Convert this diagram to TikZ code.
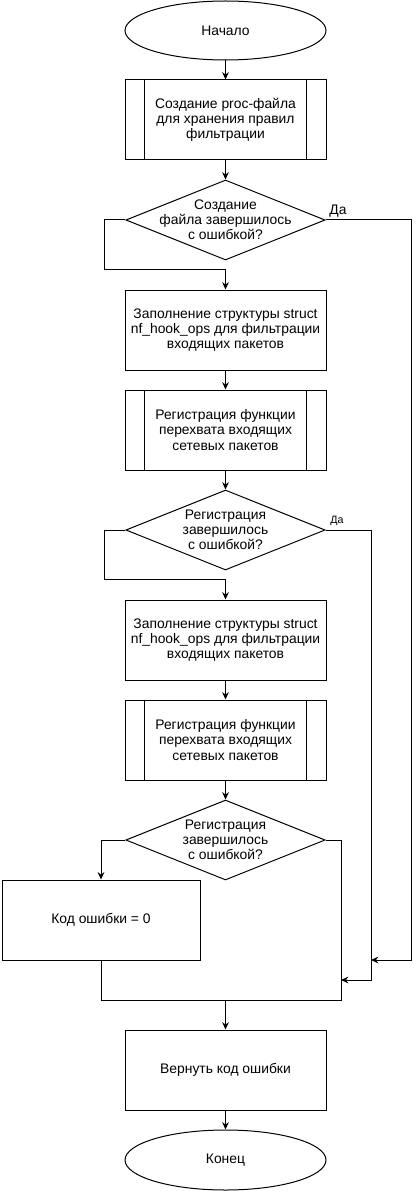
\documentclass[tikz,border=0pt]{standalone}
\usepackage{fontspec}
\setmainfont{Liberation Sans}
\usetikzlibrary{shapes.geometric,arrows.meta,calc}
\begin{document}
\begin{tikzpicture}[x=0.75pt,y=-0.75pt, line width=0.75pt,
  every node/.style={font=\fontsize{10.4}{11.3}\selectfont, align=center},
  term/.style={draw, ellipse, minimum width=150.75pt, minimum height=44.25pt, inner sep=0pt},
  proc/.style={draw, rectangle, minimum width=150.75pt, minimum height=60pt, inner sep=0pt},
  dec/.style={draw, diamond, minimum width=149.5pt, minimum height=60pt, inner sep=0pt},
  arr/.style={-{Stealth[length=5.5pt,width=5pt]}},
  yes/.style={inner sep=0pt, anchor=south}]
\useasboundingbox (0,0) rectangle (420,1191);

\node[term] (start) at (225.5,30.5) {Начало};
\node[proc] (s1) at (225.5,120) {Создание proc-файла\\для хранения правил\\фильтрации};
\draw ([xshift=15pt]s1.north west) -- ([xshift=15pt]s1.south west);
\draw ([xshift=-15pt]s1.north east) -- ([xshift=-15pt]s1.south east);
\node[dec] (d1) at (225.5,220) {};
\node (d1t) at (d1.center) {Создание\\файла завершилось\\с ошибкой?};
\node[proc] (b1) at (225.5,330) {Заполнение структуры struct\\nf\_hook\_ops для фильтрации\\входящих пакетов};
\node[proc] (s2) at (225.5,430) {Регистрация функции\\перехвата входящих\\сетевых пакетов};
\draw ([xshift=15pt]s2.north west) -- ([xshift=15pt]s2.south west);
\draw ([xshift=-15pt]s2.north east) -- ([xshift=-15pt]s2.south east);
\node[dec] (d2) at (225.5,530) {};
\node (d2t) at (d2.center) {Регистрация\\завершилось\\с ошибкой?};
\node[proc] (b3) at (225.5,640) {Заполнение структуры struct\\nf\_hook\_ops для фильтрации\\входящих пакетов};
\node[proc] (s4) at (225.5,740) {Регистрация функции\\перехвата входящих\\сетевых пакетов};
\draw ([xshift=15pt]s4.north west) -- ([xshift=15pt]s4.south west);
\draw ([xshift=-15pt]s4.north east) -- ([xshift=-15pt]s4.south east);
\node[dec] (d3) at (225.5,840) {};
\node (d3t) at (d3.center) {Регистрация\\завершилось\\с ошибкой?};
\node[proc, minimum width=148.5pt] (k) at (101,920) {Код ошибки = 0};
\node[proc] (r) at (225.5,1070) {Вернуть код ошибки};
\node[term, minimum height=45pt] (end) at (225.5,1160) {Конец};

\coordinate (m1) at (371,960);
\coordinate (m2) at (341,980);
\coordinate (j) at (225.5,1000);

\draw[arr] (start) -- (s1);
\draw[arr] (s1) -- (d1);
\draw[arr] (d1.west) -- ++(-21,0) |- ([yshift=15pt]b1.north) -- (b1.north);
\draw[arr] (d1.east) -| (411,960) -- (m1);
\node[yes] (y1) at (338,218) {Да};
\draw[arr] (b1) -- (s2);
\draw[arr] (s2) -- (d2);
\draw[arr] (d2.west) -- ++(-21,0) |- ([yshift=15pt]b3.north) -- (b3.north);
\draw[arr] (d2.east) -| (371,980) -- (m2);
\node[yes, font=\fontsize{8}{9}\selectfont] (y2) at (337,526) {Да};
\draw[arr] (b3) -- (s4);
\draw[arr] (s4) -- (d3);
\draw[arr] (d3.west) -| (k.north);
\draw (d3.east) -| (341,1000) -| (k.south);
\draw[arr] (j) -- (r.north);
\draw[arr] (r) -- (end);
\end{tikzpicture}
\end{document}
